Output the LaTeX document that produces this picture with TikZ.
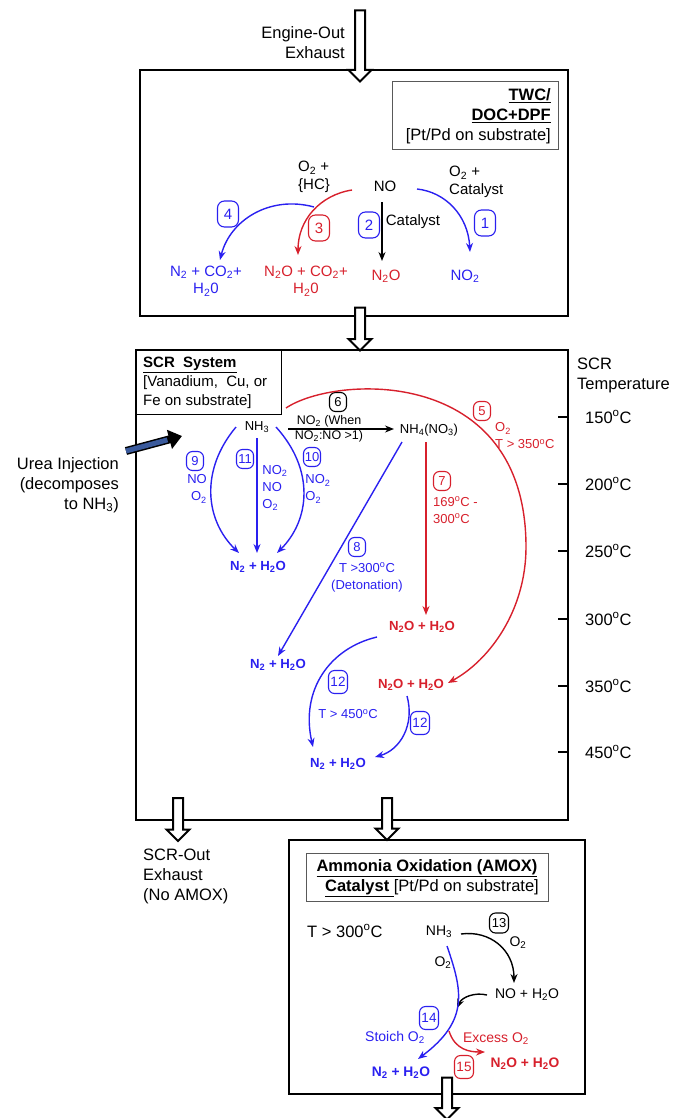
\documentclass[tikz,border=0pt]{standalone}
\usepackage{fontspec}
\setmainfont{Liberation Sans}
\usetikzlibrary{arrows.meta,shapes.arrows,calc}
\definecolor{rxblue}{HTML}{2A20F0}
\definecolor{rxred}{HTML}{D7202C}
\definecolor{ureablue}{HTML}{3A5A9C}
\newcommand{\sbt}[1]{\textsubscript{#1}}
\newcommand{\degc}{\textsuperscript{o}C}
\tikzset{
  bigtxt/.style={font=\fontsize{16.5}{20}\selectfont,inner sep=0pt},
  midtxt/.style={font=\fontsize{15}{17.5}\selectfont,inner sep=0pt},
  amtxt/.style={font=\fontsize{14}{17}\selectfont,inner sep=0pt},
  smalltxt/.style={font=\fontsize{13}{17}\selectfont,inner sep=0pt},
  tinytxt/.style={font=\fontsize{12.5}{15}\selectfont,inner sep=0pt},
  prod/.style={font=\fontsize{13.2}{16}\selectfont\bfseries,inner sep=0pt},
  numtag/.style={draw,rounded corners=7pt,minimum width=21pt,minimum height=26pt,inner sep=1pt,font=\fontsize{15}{17}\selectfont,line width=1.1pt},
  numsmall/.style={numtag,rounded corners=6pt,minimum width=17pt,minimum height=19pt,font=\fontsize{13}{15}\selectfont},
  numtall/.style={numtag,rounded corners=6pt,minimum width=19pt,minimum height=23pt,font=\fontsize{13.5}{15}\selectfont},
  flowarrow/.style={single arrow,draw=black,fill=white,line width=2pt,shape border rotate=270,single arrow head extend=6.5pt,minimum width=23pt,inner xsep=4pt,inner ysep=0pt},
  rx/.style={line width=1.4pt,-{Stealth[length=9pt,width=7pt]}},
  boxline/.style={line width=2.3pt},
}
\begin{document}
\begin{tikzpicture}[x=1pt,y=-1pt]
\useasboundingbox (0,0) rectangle (684,1118);
% boxes
\draw[boxline] (140,70) rectangle (568,316);
\draw[boxline] (136,350) rectangle (568,820);
\draw[line width=2.8pt] (289,840) rectangle (585,1094);
\draw[line width=1pt,black!65] (392,82) rectangle (558,150);
\draw[line width=1pt] (136,350) rectangle (281,414);
\draw[line width=1pt,black!65] (306,853) rectangle (548,901);
% big arrows
\node[flowarrow,minimum height=71pt] (arrowin) at (360,43.5) {};
\node[flowarrow,minimum height=43pt] (arrowtwc) at (360,326.5) {};
\node[flowarrow,minimum height=43pt] (arrowout) at (178,817) {};
\node[flowarrow,minimum height=42pt] (arrowamox) at (387,816.5) {};
\node[flowarrow,minimum height=42pt] (arrowend) at (447,1096) {};
\node[bigtxt,align=right,anchor=east] (engine) at (345,43) {Engine-Out\\Exhaust};
% TWC box
\node[bigtxt,align=right,anchor=east] (twc) at (551,116) {\underline{\textbf{TWC/}}\\\underline{\textbf{DOC+DPF}}\\{}[Pt/Pd on substrate]};
\node[midtxt] (no) at (385,186) {NO};
\node[midtxt,align=left] (otwohc) at (314,177) {O\sbt{2} +\\\{HC\}};
\node[midtxt,align=left,anchor=west] (otwocat) at (449,182) {O\sbt{2} +\\Catalyst};
\node[midtxt] (cat) at (413,222) {Catalyst};
\node[midtxt,text=rxblue,align=center] (prodfour) at (206,281) {N\sbt{2} + CO\sbt{2}+\\H\sbt{2}0};
\node[midtxt,text=rxred,align=center] (prodthree) at (306,281) {N\sbt{2}O + CO\sbt{2}+\\H\sbt{2}0};
\node[midtxt,text=rxred] (prodtwo) at (386,276) {N\sbt{2}O};
\node[midtxt,text=rxblue] (prodone) at (465,276) {NO\sbt{2}};
\node[numtag,draw=rxblue,text=rxblue] (tagone) at (485,223) {1};
\node[numtag,draw=rxblue,text=rxblue] (tagtwo) at (369,225) {2};
\node[numtag,draw=rxred,text=rxred] (tagthree) at (319,228) {3};
\node[numtag,draw=rxblue,text=rxblue] (tagfour) at (228,214) {4};
\coordinate (hcbranch) at (314,207);
\draw[rx,rxblue] ([shift={(32,3)}]no.center) .. controls (445,192) and (468,215) .. ([shift={(5,-24)}]prodone.center);
\draw[rx] ([shift={(-3,16)}]no.center) -- ([shift={(-4,-15)}]prodtwo.center);
\draw[rx,rxred] ([shift={(-33,4)}]no.center) .. controls (320,195) and (298,220) .. ([shift={(-8,-26)}]prodthree.center);
\draw[rx,rxblue] (hcbranch) .. controls (270,195) and (230,220) .. ([shift={(14,-21)}]prodfour.center);
% SCR box
\node[font=\fontsize{15}{19}\selectfont,inner sep=0pt,align=left,anchor=west] (scr) at (143,383) {\underline{\textbf{SCR\ \ System}}\\{}[Vanadium,\ \ Cu,\ or\\Fe\ on\ substrate]};
\node[bigtxt,align=right,anchor=east] (urea) at (119,485) {Urea Injection\\(decomposes\\to NH\sbt{3})};
\node[bigtxt,align=left,anchor=west] (scrtemp) at (577,375) {SCR\\Temperature};
\coordinate (ureastart) at (126,451);
\coordinate (ureatip) at (182,436);
\draw[line width=8pt,-{Triangle[length=13pt,width=19pt]}] (ureastart) -- (ureatip);
\draw[line width=5pt,ureablue] (ureastart) -- ($(ureastart)!0.74!(ureatip)$);
\foreach \tempy/\templ in {417/150,484/200,551/250,619/300,686/350,752/450}{
  \draw[boxline] (558,\tempy) -- (568,\tempy);
  \node[bigtxt,anchor=west] (temp\templ) at (585,\tempy) {\templ\degc};
}
\node[smalltxt] (nhscr) at (257,427) {NH\sbt{3}};
\node[smalltxt] (nhfour) at (429,430) {NH\sbt{4}(NO\sbt{3})};
\node[tinytxt] (nowhen) at (329,421) {NO\sbt{2} (When};
\node[tinytxt] (noratio) at (329,436) {NO\sbt{2}:NO >1)};
\node[prod,text=rxblue] (prodnine) at (258,567) {N\sbt{2} + H\sbt{2}O};
\node[prod,text=rxblue] (prodeight) at (278,665) {N\sbt{2} + H\sbt{2}O};
\node[prod,text=rxblue] (prodtwelve) at (338,764) {N\sbt{2} + H\sbt{2}O};
\node[prod,text=rxred] (noxa) at (422,627) {N\sbt{2}O + H\sbt{2}O};
\node[prod,text=rxred] (noxb) at (411,685) {N\sbt{2}O + H\sbt{2}O};
\node[smalltxt,text=rxblue,align=right] (lblnine) at (197,489) {NO\\O\sbt{2}};
\node[smalltxt,text=rxblue,align=left] (lbleleven) at (275,488) {NO\sbt{2}\\NO\\O\sbt{2}};
\node[smalltxt,text=rxblue,align=left] (lblten) at (318,489) {NO\sbt{2}\\O\sbt{2}};
\node[smalltxt,text=rxred,align=left,anchor=west] (lblfive) at (495,436) {O\sbt{2}\\T > 350\degc};
\node[smalltxt,text=rxred,align=left,anchor=west] (lblseven) at (433,510) {169\degc{} -\\300\degc};
\node[smalltxt,text=rxblue,align=center] (lbleight) at (367,577.5) {T >300\degc\\(Detonation)};
\node[smalltxt,text=rxblue] (lbltwelve) at (348,714) {T > 450\degc};
\node[numsmall,draw=rxblue,text=rxblue] (tagnine) at (195,461) {9};
\node[numsmall,draw=rxblue,text=rxblue] (tageleven) at (245,459) {11};
\node[numsmall,draw=rxblue,text=rxblue] (tagten) at (312,457) {10};
\node[numsmall] (tagsix) at (338,402) {6};
\node[numsmall,draw=rxred,text=rxred] (tagfive) at (482,411) {5};
\node[numsmall,draw=rxred,text=rxred] (tagseven) at (442,481) {7};
\node[numsmall,draw=rxblue,text=rxblue] (tageight) at (357,547) {8};
\node[numtall,draw=rxblue,text=rxblue] (tagtwelvea) at (338,682) {12};
\node[numtall,draw=rxblue,text=rxblue] (tagtwelveb) at (420,723) {12};
\coordinate (redfivestart) at (286,408);
\coordinate (redfivemid) at (526,547);
\draw[rx,rxblue] ([shift={(-21,0)}]nhscr.center) .. controls (200,470) and (205,520) .. ([shift={(-19,-14)}]prodnine.center);
\draw[rx,rxblue] ([shift={(19,0)}]nhscr.center) .. controls (315,470) and (310,520) .. ([shift={(19,-14)}]prodnine.center);
\draw[rx,rxblue] ([shift={(0,11)}]nhscr.center) -- ([shift={(-1,-14)}]prodnine.center);
\draw[rx] ([shift={(31,2)}]nhscr.center) -- ([shift={(-35,-1)}]nhfour.center);
\draw[rx,rxblue] ([shift={(-27,12)}]nhfour.center) -- ([shift={(0,-9)}]prodeight.center);
\draw[rx,rxred] ([shift={(-3,12)}]nhfour.center) -- ([shift={(4,-12)}]noxa.center);
\draw[rx,rxred] (redfivestart) .. controls (335,375) and (526,365) .. (redfivemid) .. controls (526,610) and (490,660) .. ([shift={(37,-2)}]noxb.center);
\draw[rx,rxblue] ([shift={(-45,10)}]noxa.center) .. controls (330,648) and (300,690) .. ([shift={(-25,-17)}]prodtwelve.center);
\draw[rx,rxblue] ([shift={(-4,11)}]noxb.center) .. controls (415,725) and (400,750) .. ([shift={(37,-7)}]prodtwelve.center);
% outlet labels
\node[bigtxt,align=left,anchor=west] (scrout) at (143,876.5) {SCR-Out\\Exhaust\\(No AMOX)};
% AMOX box
\node[bigtxt] (amoxa) at (427,868) {\underline{\textbf{Ammonia Oxidation (AMOX)}}};
\node[bigtxt,anchor=east] (amoxb) at (539,888) {\underline{\textbf{Catalyst }}[Pt/Pd on substrate]};
\node[bigtxt,anchor=west] (amoxt) at (307,931) {T > 300\degc};
\node[amtxt] (nham) at (439,932) {NH\sbt{3}};
\node[amtxt] (noh) at (527,995) {NO + H\sbt{2}O};
\node[amtxt] (otwob) at (518,943) {O\sbt{2}};
\node[amtxt] (otwoa) at (443,963) {O\sbt{2}};
\node[amtxt,text=rxblue] (stoich) at (395,1037) {Stoich O\sbt{2}};
\node[amtxt,text=rxred] (excess) at (496,1039) {Excess O\sbt{2}};
\node[prod,font=\fontsize{13.8}{16}\selectfont\bfseries,text=rxblue] (prodfourteen) at (401,1073) {N\sbt{2} + H\sbt{2}O};
\node[prod,font=\fontsize{13.8}{16}\selectfont\bfseries,text=rxred] (prodfifteen) at (525,1064) {N\sbt{2}O + H\sbt{2}O};
\node[numsmall,minimum width=19pt,minimum height=20pt] (tagthirteen) at (499,923) {13};
\node[numtall,draw=rxblue,text=rxblue] (tagfourteen) at (429,1018) {14};
\node[numtall,draw=rxred,text=rxred] (tagfifteen) at (464,1067) {15};
\coordinate (amoxjoin) at (457,1008);
\coordinate (amoxbranch) at (449,1031);
\draw[rx] ([shift={(22,2)}]nham.center) .. controls (490,930) and (514,950) .. ([shift={(-13,-12)}]noh.center);
\draw[rx] ([shift={(-40,0)}]noh.center) .. controls (475,992) and (462,997) .. (amoxjoin);
\draw[rx,rxblue] ([shift={(8,14)}]nham.center) .. controls (462,990) and (470,1020) .. ([shift={(17,-14)}]prodfourteen.center);
\draw[rx,rxred] (amoxbranch) .. controls (455,1050) and (470,1052) .. ([shift={(-40,-12)}]prodfifteen.center);
\end{tikzpicture}
\end{document}
